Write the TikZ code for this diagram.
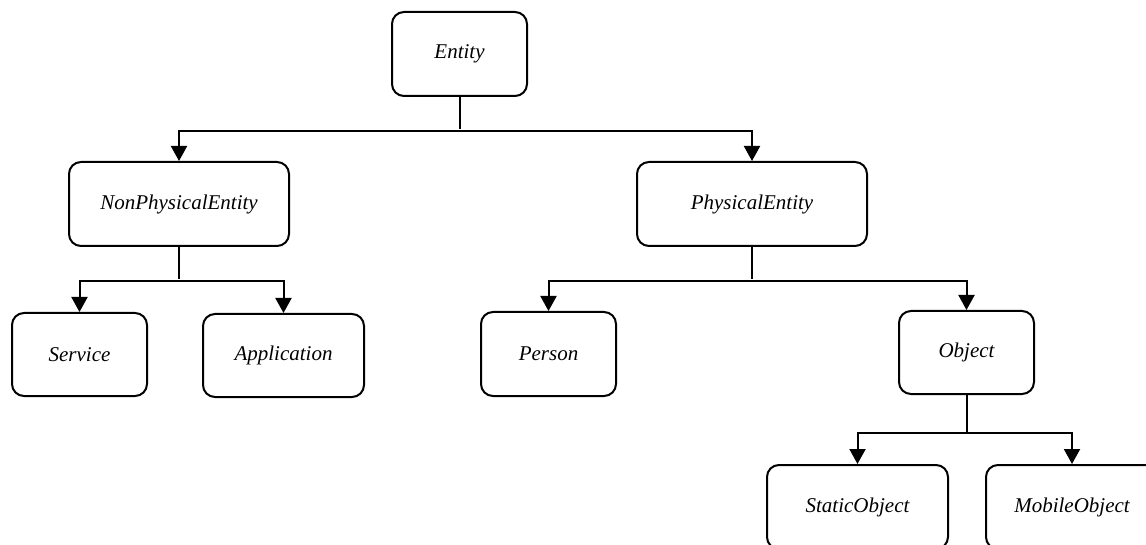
\documentclass[tikz,border=0pt]{standalone}
\usepackage{fontspec}
\setmainfont{Liberation Serif}
\usetikzlibrary{arrows.meta}
\begin{document}
\begin{tikzpicture}[x=1pt,y=-1pt,
  box/.style={draw, line width=2pt, rounded corners=12pt, inner sep=0pt,
    font=\fontsize{21}{25}\selectfont\itshape},
  conn/.style={line width=2pt},
  arr/.style={line width=2pt, -{Triangle[width=16pt,length=15pt]}}]
\clip (0,0) rectangle (1146,545);
\fill[white] (0,0) rectangle (1146,545);
\node[box, minimum width=135pt, minimum height=84pt] (entity) at (459.5,54) {Entity};
\node[box, minimum width=220pt, minimum height=84pt] (npe) at (179,204) {NonPhysicalEntity};
\node[box, minimum width=230pt, minimum height=84pt] (phys) at (752,204) {PhysicalEntity};
\node[box, minimum width=135pt, minimum height=83pt] (service) at (79.5,354.5) {Service};
\node[box, minimum width=161pt, minimum height=83pt] (app) at (283.5,355.5) {Application};
\node[box, minimum width=135pt, minimum height=84pt] (person) at (548.5,354) {Person};
\node[box, minimum width=135pt, minimum height=83pt] (object) at (966.5,352.5) {Object};
\node[box, minimum width=181pt, minimum height=84pt] (static) at (857.5,507) {StaticObject};
\node[box, minimum width=172pt, minimum height=84pt] (mobile) at (1072,507) {MobileObject};
\coordinate (b1) at (entity.south |- 0,131);
\coordinate (b2) at (npe.south |- 0,281);
\coordinate (b3) at (phys.south |- 0,281);
\coordinate (b4) at (object.south |- 0,433);
\draw[conn] (entity.south) -- ([yshift=2pt]b1);
\draw[arr] (b1) -| (npe.north);
\draw[arr] (b1) -| (phys.north);
\draw[conn] (npe.south) -- ([yshift=2pt]b2);
\draw[arr] (b2) -| (service.north);
\draw[arr] (b2) -| (app.north);
\draw[conn] (phys.south) -- ([yshift=2pt]b3);
\draw[arr] (b3) -| (person.north);
\draw[arr] (b3) -| (object.north);
\draw[conn] (object.south) -- (b4);
\draw[arr] (b4) -| (static.north);
\draw[arr] (b4) -| (mobile.north);
\end{tikzpicture}
\end{document}
